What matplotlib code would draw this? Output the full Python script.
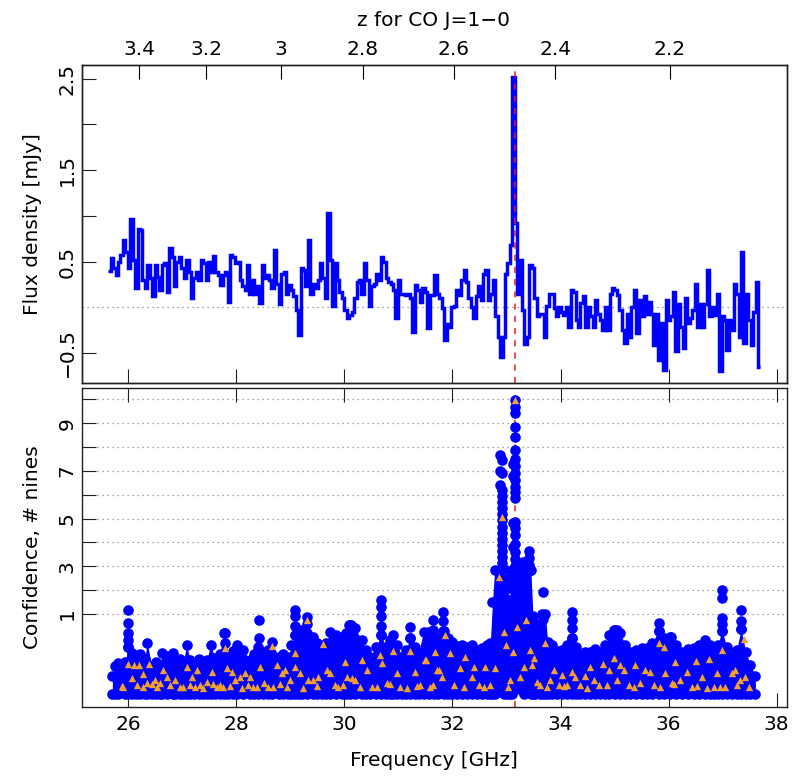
import numpy as np
import matplotlib
matplotlib.use('Agg')
import matplotlib.pyplot as plt

# spectrum: flux density per channel [mJy], channels spread evenly over the band
freq_lo, freq_hi = 25.63, 37.70
flux = [
    0.40, 0.54, 0.43, 0.35, 0.50, 0.57, 0.74, 0.61, 0.43, 0.97, 0.52, 0.21, 0.86, 0.85, 0.30,
    0.21, 0.46, 0.32, 0.12, 0.46, 0.33, 0.19, 0.46, 0.48, 0.17, 0.65, 0.55, 0.23, 0.50, 0.55,
    0.43, 0.32, 0.52, 0.39, 0.10, 0.32, 0.39, 0.30, 0.52, 0.48, 0.30, 0.50, 0.39, 0.56, 0.39,
    0.35, 0.24, 0.35, 0.39, 0.06, 0.57, 0.55, 0.48, 0.50, 0.30, 0.23, 0.19, 0.46, 0.15, 0.30,
    0.15, 0.23, 0.05, 0.46, 0.32, 0.35, 0.30, 0.21,
    0.63, 0.25, 0.04, 0.37, 0.39, 0.15, 0.24, 0.19, 0.12, -0.03, -0.30, 0.43, 0.41, 0.23, 0.74,
    0.15, 0.26, 0.21, 0.30, 0.49, 0.32, 0.10, 1.03, 0.52, 0.01, 0.48, 0.30, 0.17, 0.10, -0.03,
    -0.12, -0.08, -0.05, 0.10, 0.28, 0.30, 0.15, 0.48, 0.30, 0.01, 0.23, 0.26, 0.37, 0.30, 0.55,
    0.50, 0.32, 0.28, 0.26, 0.19, -0.12, 0.30, 0.15, 0.15, 0.13, 0.15, 0.10, -0.27, 0.24, 0.19,
    0.06, 0.21, 0.17, -0.23, 0.13, 0.13, 0.35, 0.15, 0.10,
    -0.01, -0.36, -0.18, -0.21, 0.00, 0.02, 0.19, 0.13, 0.30, 0.41, 0.28, 0.10, 0.00, -0.12, 0.12,
    0.23, 0.08, 0.37, 0.41, 0.08, 0.15, 0.30, -0.10, -0.32, -0.54, -0.32, 0.37, 0.48, 0.68, 2.52,
    0.92, 0.15, 0.52, -0.03, -0.40, -0.32, 0.46, 0.43, 0.10, -0.10, -0.07, -0.07, -0.32, 0.02, 0.15,
    0.15, -0.01, -0.10, 0.00, -0.05, -0.08, 0.00, -0.21, 0.19, 0.17, -0.14, -0.21, 0.05, 0.12, -0.21,
    0.00, -0.10, -0.21, 0.08, -0.07, -0.14, -0.25, 0.00, -0.25, 0.15,
    0.21, 0.19, 0.13, -0.03, -0.25, -0.39, -0.07, -0.32, 0.00, 0.19, -0.28, 0.08, -0.10, 0.12, -0.07,
    0.06, -0.07, -0.41, -0.07, -0.58, -0.17, -0.69, 0.08, -0.14, -0.10, 0.17, -0.48, 0.04, -0.21, -0.45,
    0.10, -0.17, -0.12, -0.03, 0.26, -0.21, 0.04, -0.21, 0.04, 0.41, -0.10, 0.00, -0.08, 0.15, -0.70,
    -0.10, -0.14, -0.47, -0.14, -0.25, 0.26, 0.15, -0.32, 0.61, -0.39, 0.15, -0.14, -0.41, -0.05, 0.28,
    -0.65,
]

line_freq = 33.148
co_rest = 115.2712

z_ticks = [3.4, 3.2, 3.0, 2.8, 2.6, 2.4, 2.2]
z_labels = ['3.4', '3.2', '3', '2.8', '2.6', '2.4', '2.2']

# confidence panel: upper edge of the dense point cloud
cloud_freq = [25.704, 25.76, 25.815, 25.939, 26.0, 26.062, 26.14, 26.22, 26.3, 26.352, 26.43,
              26.51, 26.587, 26.62, 26.72, 26.834, 26.865, 26.95, 27.019, 27.081, 27.142, 27.22,
              27.3, 27.38, 27.451, 27.525, 27.605, 27.69, 27.772, 27.852, 27.93, 28.006, 28.13,
              28.253, 28.33, 28.408, 28.5, 28.58, 28.655, 28.78, 28.87, 28.963, 29.02, 29.087,
              29.15, 29.21, 29.303, 29.426, 29.5, 29.58, 29.66, 29.735, 29.85, 29.951, 30.03,
              30.105, 30.2, 30.321, 30.4, 30.476, 30.58, 30.673, 30.772, 30.84, 30.908, 30.98,
              31.062, 31.14, 31.216, 31.3, 31.371, 31.464, 31.56, 31.649, 31.74, 31.834, 31.92,
              31.988, 32.08, 32.174, 32.27, 32.359, 32.45, 32.544, 32.63, 32.70, 32.74, 32.78,
              32.945, 33.0, 33.056, 33.1, 33.316, 33.45, 33.49, 33.532, 33.62, 33.66, 33.72,
              33.76, 33.84, 33.93, 34.025, 34.12, 34.211, 34.29, 34.365, 34.46, 34.55, 34.64,
              34.735, 34.82, 34.9, 35.013, 35.1, 35.2, 35.291, 35.4, 35.5, 35.6, 35.7, 35.816,
              35.92, 36.032, 36.14, 36.248, 36.35, 36.464, 36.57, 36.68, 36.76, 36.834, 36.91,
              36.988, 37.08, 37.173, 37.26, 37.34, 37.43, 37.513, 37.606]
cloud_top = [-1.6, -1.2, -1.07, -1.0, -0.4, -0.65, -0.75, -0.7, -0.9, -0.2, -1.2,
             -1.0, -1.2, -0.65, -0.75, -0.65, -1.0, -0.9, -1.0, -0.3, -0.93, -1.05,
             -0.9, -1.0, -0.93, -0.3, -0.86, -0.7, 0.19, -0.72, -0.55, -0.3, -0.51,
             -0.93, -0.7, -0.4, -0.65, -0.5, -0.16, -0.79, -0.7, -0.79, -0.3, 0.1,
             0.0, 0.33, 0.2, 0.05, -0.2, -0.51, -0.2, 0.26, 0.1, 0.05, 0.2,
             0.54, 0.4, -0.1, -0.5, -0.79, -0.4, 0.1, -0.37, -0.1, 0.12, -0.3,
             -0.79, -0.5, 0.0, -0.4, -0.65, 0.26, 0.0, 0.05, 0.0, 0.3, 0.0,
             -0.16, -0.35, -0.3, -0.4, -0.3, -0.5, -0.44, -0.3, -0.2, 1.5, 2.85,
             2.9, 2.4, 1.6, 2.85, 2.85, 2.85, 0.9, 0.6, 0.5, 1.0, 1.0,
             -0.16, -0.3, -0.55, -0.51, -0.3, 0.0, -0.4, -0.72, -0.6, -0.6, -0.45,
             -0.58, -0.3, 0.1, 0.33, 0.2, -0.3, -0.58, -0.5, -0.44, -0.44, -0.2, 0.3,
             0.0, 0.05, -0.3, -0.58, -0.45, -0.44, -0.3, -0.1, -0.3, -0.58, -0.3,
             0.3, -0.4, -0.65, -0.5, 0.35, -0.6, -1.14, -1.6]
cloud_base = -2.36

# isolated stacks of points standing above the cloud
spike_freq = [26.0, 27.79, 28.41, 29.08, 29.3, 30.08, 30.12, 30.67, 31.22, 31.55, 31.64, 31.83,
              32.88, 32.91, 33.05, 33.12, 33.16, 33.3, 33.41, 33.68, 34.21, 34.99, 35.04,
              35.82, 36.04, 36.99, 37.34]
spike_conf = [
    [1.17, 0.61, 0.19, -0.09, -0.37],
    [0.19, -0.2],
    [0.75, -0.02, -0.51],
    [1.17, 0.9, 0.5, 0.1],
    [0.89, 0.6],
    [0.54],
    [0.54],
    [1.59, 1.3, 0.9, 0.5, 0.1],
    [0.47, 0.0],
    [0.26],
    [0.75, 0.33, 0.05],
    [1.1, 0.7, 0.3],
    [7.67, 7.0, 6.4],
    [7.46, 6.9, 6.2, 5.95, 5.7, 5.45, 5.2, 4.95, 4.66, 4.4, 4.15, 3.9, 3.65, 3.4, 3.15, 2.9],
    [2.5, 2.1],
    [7.3, 6.8, 4.8, 3.8],
    [9.98, 9.7, 9.42, 8.86, 8.44, 7.88, 7.5, 7.2, 6.9, 6.62, 6.34, 6.1, 5.85, 4.85, 4.6,
     4.31, 3.95, 3.6, 3.3, 3.0],
    [3.2, 2.9],
    [3.65, 3.35, 3.05, 2.8],
    [1.94, 0.96, 0.78],
    [1.1, 0.75, 0.4, 0.0],
    [0.33],
    [0.33],
    [0.61, 0.3],
    [0.05],
    [2.0, 1.65, 0.85, 0.6, 0.3],
    [1.17, 0.7, 0.35],
]

tri_freq = [26.0, 26.105, 26.198, 26.389, 26.266, 26.062, 25.908, 26.155, 26.352, 26.494, 26.587,
            26.648, 26.71, 26.772, 26.865, 26.957, 27.081, 27.173, 27.266, 27.328, 27.451, 27.544,
            27.636, 27.698, 27.79, 27.821, 27.914, 27.975, 28.068, 28.161, 28.253, 28.315, 28.439,
            28.513, 28.593, 28.655, 28.747, 28.84, 28.902, 28.994, 29.087, 29.087, 29.179, 29.303,
            29.334, 29.426, 29.519, 29.612, 29.673, 29.735, 29.828, 29.889, 30.013, 30.044, 30.136,
            30.198, 30.321, 30.414, 30.507, 30.661, 30.692, 30.784, 30.908, 30.97, 31.031, 31.216,
            31.309, 31.402, 31.494, 31.587, 31.71,
            25.877, 26.278, 26.432, 26.525, 27.019, 27.142, 27.235, 27.389, 27.574, 27.76, 27.883,
            28.099, 28.223, 28.377, 28.686, 28.809, 28.932, 29.241, 29.488, 29.982, 30.291, 30.599,
            30.846, 31.155, 31.34, 31.648,
            31.513, 31.68, 31.742, 31.865, 31.958, 31.803, 32.02, 32.143, 32.235, 32.39, 32.359,
            32.482, 32.606, 32.698, 32.791, 32.853, 32.945, 32.995, 33.069, 33.02, 33.118, 33.192,
            33.254, 33.316, 33.365, 33.427, 33.501, 33.47, 33.563, 33.624, 33.717, 33.748, 33.809,
            33.871, 33.964, 34.025, 34.118, 34.211, 34.272, 34.365, 34.458, 34.55, 34.612, 34.705,
            34.785, 34.89, 34.982, 35.044, 35.106, 35.167, 35.26, 35.383, 35.476, 35.569, 35.661,
            35.723, 35.816, 35.908, 35.939, 36.062, 36.124, 36.217, 36.34, 36.433, 36.513, 36.618,
            36.741, 36.834, 36.896, 36.988, 37.05, 37.173, 37.235, 37.328, 37.389, 37.42,
            32.204, 32.575, 34.056, 34.488, 34.859, 35.353, 35.846, 36.093, 36.525, 36.711,
            36.957, 37.266, 37.482, 33.15, 32.92]
tri_conf = [-1.11, -1.14, -1.14, -1.11, -1.52, -1.70, -2.05, -1.98, -1.91, -1.77, -1.91,
            -1.35, -1.63, -1.98, -1.77, -2.05, -1.21, -1.63, -1.35, -1.98, -1.84, -1.42,
            -2.05, -1.98, -0.44, -1.28, -1.42, -1.77, -1.63, -1.49, -1.63, -2.05, -1.24,
            -1.91, -2.05, -0.34, -1.14, -1.49, -1.35, -1.77, -0.65, -1.21, -1.49, 0.75,
            -1.77, -1.77, -1.63, -0.26, -1.35, -1.49, -1.98, -2.05, -1.0, -1.63, -1.70,
            -1.77, -0.93, -1.35, -2.05, -0.72, -1.07, -1.91, -0.54, -1.49, -2.05, -0.54,
            -1.42, -1.98, -0.93, -2.05, -1.35,
            -2.02, -2.08, -1.95, -2.05, -2.08, -1.98, -2.05, -2.1, -1.95, -2.08, -2.02,
            -2.1, -1.98, -2.05, -2.08, -1.95, -2.05, -2.1, -2.02, -1.98, -2.08, -2.05,
            -1.95, -2.1, -2.02, -1.98,
            -0.93, -0.58, -1.35, 0.12, -0.65, -1.63, -1.98, -1.28, -0.79, -1.21, -1.63,
            -1.98, -1.21, -1.98, -1.28, 2.57, 0.26, -0.3, -1.77, -2.05, -0.58, 0.47,
            -1.63, -1.21, 0.75, -0.51, -0.86, -1.14, -1.84, -1.98, -0.23, -2.05, -1.77,
            -1.35, -1.98, -1.56, -1.98, -1.42, -1.63, -1.98, -1.60, -1.21, -1.77, -1.98,
            -1.10, -1.35, -0.86, -1.77, -1.14, -1.35, -1.98, -1.14, -1.91, -1.35, -1.42,
            -1.98, -0.23, -0.37, -1.49, -1.91, -1.0, -1.77, -1.42, -2.05, -0.96, -1.63,
            -0.90, -2.05, -1.49, -0.51, -2.05, -1.49, -1.35, -1.77, -0.06, -1.63,
            -2.05, -2.08, -2.02, -2.1, -1.98, -2.05, -2.08, -1.95, -2.02, -2.1,
            -2.05, -1.98, -2.08, 9.98, 5.08]

plt.rcParams['font.family'] = 'DejaVu Sans'
fs = 14.5
blue = '#0000ff'
orange = '#f0a030'
dot = 58

fig = plt.figure(figsize=(8.09, 7.78), dpi=100)
ax1 = fig.add_axes([0.1017, 0.5073, 0.8707, 0.4092])
ax2 = fig.add_axes([0.1017, 0.0917, 0.8707, 0.4092])
xlim = (25.148, 38.185)

# top panel: spectrum
edges = np.linspace(freq_lo, freq_hi, len(flux) + 1)
ax1.stairs(flux, edges, baseline=None, color=blue, lw=2.5, zorder=2)
ax1.axhline(0, color='#888888', ls=(0, (1, 3)), lw=0.9, zorder=1)
ax1.axvline(line_freq, color='#e02020', ls=(0, (4, 4)), lw=1.1, zorder=3)
ax1.set_xlim(xlim)
ax1.set_ylim(-0.831, 2.651)
ax1.set_xticks(range(26, 39, 2))
ax1.set_yticks([-0.5, 0.5, 1.0, 1.5, 2.0, 2.5])
ax1.set_yticklabels(['\u22120.5', '0.5', '', '1.5', '', '2.5'], rotation=90, va='center')
ax1.tick_params(axis='x', bottom=True, top=False, labelbottom=False)

axz = ax1.twiny()
axz.set_xlim(xlim)
axz.set_xticks([co_rest / (1 + z) for z in z_ticks])
axz.set_xticklabels(z_labels)
axz.tick_params(axis='x', direction='in', length=10, width=0.8, labelsize=fs, pad=4)

# bottom panel: confidence
for k in range(1, 11):
    ax2.axhline(k, color='#888888', ls=(0, (1, 3)), lw=0.9, zorder=1)
ax2.axvline(line_freq, color='#e02020', ls=(0, (4, 4)), lw=1.1, zorder=1)
ax2.fill_between(cloud_freq, cloud_base, cloud_top, color=blue, lw=0, zorder=2)
ax2.scatter(cloud_freq, cloud_top, s=dot, color=blue, lw=0, zorder=2)
ax2.scatter(cloud_freq, [cloud_base] * len(cloud_freq), s=dot, color=blue, lw=0, zorder=2)
sx = [f for f, cs in zip(spike_freq, spike_conf) for c in cs]
sy = [c for cs in spike_conf for c in cs]
ax2.scatter(sx, sy, s=dot, color=blue, lw=0, zorder=2)
ax2.scatter(tri_freq, tri_conf, s=28, marker='^', color=orange, lw=0, zorder=3)
ax2.set_xlim(xlim)
ax2.set_ylim(-2.888, 10.467)
ax2.set_xticks(range(26, 39, 2))
ax2.set_yticks(range(1, 11))
ax2.set_yticklabels(['1', '', '3', '', '5', '', '7', '', '9', ''], rotation=90, va='center')
ax2.tick_params(axis='x', bottom=True, top=True, labelbottom=True, pad=6)

for ax in (ax1, ax2):
    ax.tick_params(direction='in', length=10, width=0.8, labelsize=fs, color='#222222')
    ax.tick_params(axis='y', pad=4)
for ax in (ax1, ax2, axz):
    for sp in ax.spines.values():
        sp.set_linewidth(1.0)
        sp.set_color('#222222')

fig.text(433 / 809, 1 - 20 / 778, 'z for CO J=1\u22120', ha='center', va='center', fontsize=fs)
fig.text(434 / 809, 1 - 760 / 778, 'Frequency [GHz]', ha='center', va='center', fontsize=fs)
fig.text(33 / 809, 1 - 224 / 778, 'Flux density [mJy]', ha='center', va='center',
         rotation=90, fontsize=fs)
fig.text(33 / 809, 1 - 547 / 778, 'Confidence, # nines', ha='center', va='center',
         rotation=90, fontsize=fs)

fig.savefig('out.png', dpi=100)
